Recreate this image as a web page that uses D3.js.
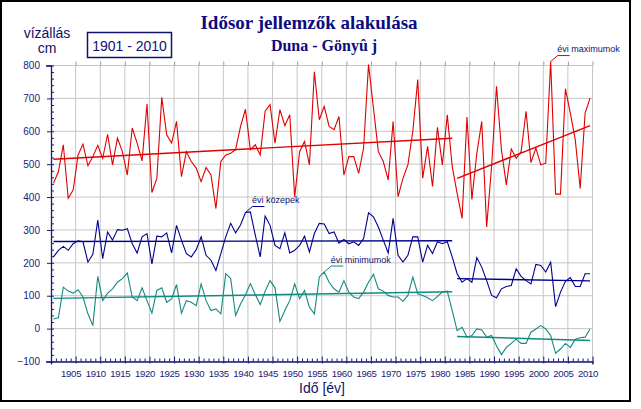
<!DOCTYPE html>
<html><head><meta charset="utf-8">
<script src="https://cdn.jsdelivr.net/npm/d3@7/dist/d3.min.js"></script>
<style>html,body{margin:0;padding:0;background:#fff;}svg{display:block;}</style>
</head><body>
<script>
// ---- data ----
const firstYear = 1901, lastYear = 2010;
const years = d3.range(firstYear, lastYear + 1);
const maxValues = [442,477,559,396,421,528,561,495,523,557,
518,591,498,579,538,467,610,564,510,683,
414,457,703,589,564,630,462,538,508,488,
447,490,467,365,508,528,533,544,615,667,
544,559,528,661,681,564,666,617,650,400,
538,569,498,781,635,676,615,605,645,467,
523,523,472,549,803,671,538,508,452,630,
401,457,498,600,757,457,554,432,612,498,
650,493,411,335,643,393,533,630,309,493,
737,544,437,546,518,538,661,505,549,498,
503,812,409,409,729,655,574,426,655,701];
const meanValues = [218,238,250,238,258,267,264,202,226,330,
213,294,269,301,299,304,258,230,279,289,
197,281,279,291,230,314,269,228,218,240,
279,223,208,177,228,279,320,291,315,353,
355,284,218,342,314,253,243,291,230,238,
253,281,233,289,320,318,289,294,260,271,
258,264,253,274,352,340,309,269,230,335,
223,202,223,279,279,202,253,228,264,258,
264,218,167,141,152,141,216,187,146,101,
94,121,128,131,182,159,146,136,195,192,
172,202,67,111,144,155,128,128,167,167];
const minValues = [29,33,126,114,108,118,96,45,9,159,
85,108,121,141,152,169,96,85,124,85,
47,116,124,80,90,134,47,85,80,70,
136,85,55,60,45,167,152,40,75,102,
137,104,73,114,146,124,22,55,85,136,
91,116,65,45,157,172,141,121,111,146,
111,96,91,111,141,165,121,114,101,96,
96,83,101,157,106,101,94,85,98,111,
114,55,-6,4,-26,-21,-1,-4,-26,-21,
-52,-79,-57,-45,-32,-45,-45,-11,-1,9,
-1,-21,-75,-62,-45,-57,-32,-28,-26,-1];
// trend / mean segments: [year, value] endpoints
const maxTrend = [[[1901,515],[1982,579]], [[1983,457],[2010,617]]];
const meanTrend = [[[1901,265],[1982,267]], [[1983,152],[2010,145]]];
const minTrend = [[[1901,92],[1982,112]], [[1983,-24],[2010,-36]]];
const yTicks = [-100,0,100,200,300,400,500,600,700,800];
const xTickYears = d3.range(1905, 2011, 5);
const titleText = "Idősor jellemzők alakulása";
const subtitleText = "Duna - Gönyû j";
const periodText = "1901 - 2010";
const seriesLabels = {max: "évi maximumok", mean: "évi közepek", min: "évi minimumok"};
const labelYears = {max: 2002, mean: 1940, min: 1956};

// ---- drawing ----
const W = 641, H = 409;
const navy = "#10106e", red = "#e00000", blue = "#00008c", teal = "#128a80";
const svg = d3.select("body").append("svg").attr("width", W).attr("height", H);
svg.append("rect").attr("x",0).attr("y",0).attr("width",W).attr("height",H).attr("fill","#fff");
svg.append("rect").attr("x",1).attr("y",1).attr("width",629).attr("height",400)
  .attr("fill","none").attr("stroke","#000").attr("stroke-width",2);

const x = d3.scaleLinear().domain([1900, 2010]).range([51, 592.5]);
const y = d3.scaleLinear().domain([-100, 800]).range([361.5, 65.5]);
const px = yr => x(yr - 0.5);

// grid
const grid = svg.append("g").attr("stroke","#c6c6c6").attr("stroke-width",1);
xTickYears.forEach(t => grid.append("line").attr("x1",x(t)).attr("x2",x(t)).attr("y1",y(800)).attr("y2",y(-100)));
yTicks.forEach(t => grid.append("line").attr("x1",x(1900)).attr("x2",x(2010)).attr("y1",y(t)).attr("y2",y(t)));

// axes
const axisCol = "#1a1a78";
// left axis
const yAxis = d3.axisLeft(y).tickValues(yTicks).tickSize(5).tickPadding(6).tickFormat(d3.format("d"));
const gy = svg.append("g").attr("transform",`translate(${x(1900)},0)`).call(yAxis);
gy.select(".domain").attr("stroke",axisCol).attr("stroke-width",1.3);
gy.selectAll(".tick line").attr("stroke",axisCol).attr("x2",-4).attr("x1",3);
gy.selectAll(".tick text").attr("fill",axisCol).attr("font-family","Liberation Sans, Arial, sans-serif").attr("font-size",10);
const yMinor = d3.range(-100, 801, 20).filter(v => v % 100 !== 0);
const gym = svg.append("g").attr("transform",`translate(${x(1900)},0)`).call(d3.axisRight(y).tickValues(yMinor).tickSize(3).tickFormat(""));
gym.select(".domain").remove();
gym.selectAll(".tick line").attr("stroke",axisCol);

// bottom axis
const xAxis = d3.axisBottom(x).tickValues(xTickYears).tickSize(3).tickPadding(6).tickFormat(d3.format("d"));
const gx = svg.append("g").attr("transform",`translate(0,${y(-100)})`).call(xAxis);
gx.select(".domain").attr("stroke",axisCol).attr("stroke-width",1.3);
gx.selectAll(".tick line").attr("stroke",axisCol).attr("y1",-5).attr("y2",2);
gx.selectAll(".tick text").attr("fill",axisCol).attr("font-family","Liberation Sans, Arial, sans-serif").attr("font-size",9.6).attr("dx",-5).attr("letter-spacing",-0.3);
const gxm = svg.append("g").attr("transform",`translate(0,${y(-100)})`).call(d3.axisTop(x).tickValues(d3.range(1901,2010).filter(v=>v%5!==0)).tickSize(3).tickFormat(""));
gxm.select(".domain").remove();
gxm.selectAll(".tick line").attr("stroke",axisCol);
// top ticks
const gt = svg.append("g").attr("transform",`translate(0,${y(800)})`).call(d3.axisTop(x).tickValues(xTickYears).tickSize(4).tickFormat(""));
gt.select(".domain").remove();
gt.selectAll(".tick line").attr("stroke","#999");

// series
const line = d3.line().x((d,i) => px(years[i])).y(d => y(d));
const seg = d3.line().x(d => px(d[0])).y(d => y(d[1]));
function drawSeries(vals, trend, col) {
  svg.append("path").attr("d", line(vals)).attr("fill","none").attr("stroke",col).attr("stroke-width",1.1);
  trend.forEach(t => svg.append("path").attr("d", seg(t)).attr("fill","none").attr("stroke",col).attr("stroke-width",1.4));
}
drawSeries(minValues, minTrend, teal);
drawSeries(meanValues, meanTrend, blue);
drawSeries(maxValues, maxTrend, red);

// series labels with leader lines
function seriesLabel(vals, yr, text, col) {
  const p = [px(yr), y(vals[yr - firstYear])];
  svg.append("path").attr("d", `M${p[0]},${p[1]}L${p[0]+7},${p[1]-6}L${p[0]+19},${p[1]-6}`)
    .attr("fill","none").attr("stroke",col).attr("stroke-width",1);
  svg.append("text").attr("x",p[0]+6.5).attr("y",p[1]-9.5).text(text)
    .attr("fill",navy).attr("font-family","Liberation Sans, Arial, sans-serif").attr("font-size",9);
}
seriesLabel(maxValues, labelYears.max, seriesLabels.max, red);
seriesLabel(meanValues, labelYears.mean, seriesLabels.mean, blue);
seriesLabel(minValues, labelYears.min, seriesLabels.min, teal);

// titles
svg.append("text").attr("x",309).attr("y",29).attr("text-anchor","middle").text(titleText)
  .attr("fill","#0c0c80").attr("font-family","Liberation Serif, Times New Roman, serif").attr("font-weight","bold").attr("font-size",19);
svg.append("text").attr("x",324).attr("y",51).attr("text-anchor","middle").text(subtitleText)
  .attr("fill","#0c0c80").attr("font-family","Liberation Serif, Times New Roman, serif").attr("font-weight","bold").attr("font-size",16);
svg.append("text").attr("x",47).attr("y",38).attr("text-anchor","middle").text("vízállás")
  .attr("fill",navy).attr("font-family","Liberation Sans, Arial, sans-serif").attr("font-size",14);
svg.append("text").attr("x",47).attr("y",53).attr("text-anchor","middle").text("cm")
  .attr("fill",navy).attr("font-family","Liberation Sans, Arial, sans-serif").attr("font-size",14);
svg.append("rect").attr("x",87.5).attr("y",32.5).attr("width",84).attr("height",25)
  .attr("fill","none").attr("stroke",navy).attr("stroke-width",1.5);
svg.append("text").attr("x",129.5).attr("y",51).attr("text-anchor","middle").text(periodText)
  .attr("fill",navy).attr("font-family","Liberation Sans, Arial, sans-serif").attr("font-size",14);
svg.append("text").attr("x",322).attr("y",393).attr("text-anchor","middle").text("Idő [év]")
  .attr("fill",navy).attr("font-family","Liberation Sans, Arial, sans-serif").attr("font-size",14);
</script>
</body></html>
